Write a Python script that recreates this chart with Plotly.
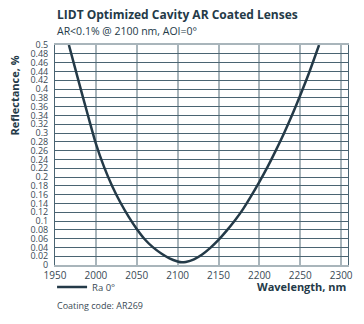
import plotly.graph_objects as go

# Data
wavelength_nm = [1967, 1980, 1990, 2000, 2010, 2020, 2030, 2040, 2050, 2060, 2070, 2080,
                 2090, 2100, 2105, 2110, 2120, 2130, 2140, 2150, 2160, 2170, 2180, 2190,
                 2200, 2210, 2220, 2230, 2240, 2250, 2260, 2273]
reflectance_pct = [0.500, 0.410, 0.342, 0.276, 0.223, 0.179, 0.142, 0.110, 0.082, 0.058, 0.040, 0.026,
                   0.015, 0.008, 0.006, 0.007, 0.013, 0.024, 0.039, 0.057, 0.078, 0.101, 0.127, 0.157,
                   0.189, 0.223, 0.260, 0.299, 0.341, 0.386, 0.433, 0.500]
x_ticks = [1950, 2000, 2050, 2100, 2150, 2200, 2250, 2300]
y_ticks = [round(i * 0.02, 2) for i in range(26)]
y_ticklabels = [f"{v:g}" for v in y_ticks]
series_name = "Ra 0°"
title = "LIDT Optimized Cavity AR Coated Lenses"
subtitle = "AR<0.1% @ 2100 nm, AOI=0°"
footnote = "Coating code: AR269"

DARK = "#243a48"
TEXT = "#3a4a55"
FONT = "Open Sans"

fig = go.Figure()
fig.add_trace(go.Scatter(
    x=wavelength_nm, y=reflectance_pct, mode="lines", name=series_name,
    line=dict(color=DARK, width=2.5, shape="spline", smoothing=0.8),
))

fig.update_layout(
    width=364, height=324,
    margin=dict(l=55, r=11, t=45, b=59),
    paper_bgcolor="white", plot_bgcolor="white",
    font=dict(family=FONT, color=TEXT, size=10),
    showlegend=True,
    legend=dict(x=-0.01, y=-0.1, xanchor="left", yanchor="middle", orientation="h",
                font=dict(size=9.5, color=TEXT), itemwidth=30, bgcolor="rgba(0,0,0,0)"),
    xaxis=dict(
        range=[1950, 2308.4], tickvals=x_ticks, ticktext=[str(v) for v in x_ticks],
        showgrid=True, gridcolor="#a9b5bb", gridwidth=2,
        showline=True, linecolor="#a9b5bb", linewidth=2, mirror=True,
        ticks="", tickfont=dict(size=10, color=TEXT), zeroline=False,
    ),
    yaxis=dict(
        range=[0, 0.5], tickvals=y_ticks, ticktext=y_ticklabels,
        showgrid=True, gridcolor="#4a6472", gridwidth=1,
        showline=True, linecolor="#4a6472", linewidth=1, mirror=True,
        ticks="", tickfont=dict(size=9, color=TEXT), zeroline=False, ticklabelstandoff=4,
    ),
    annotations=[
        dict(text="<b>" + title + "</b>", xref="paper", yref="paper", x=0, y=1,
             xanchor="left", yanchor="middle", yshift=31, showarrow=False,
             font=dict(size=12, color=DARK, family=FONT)),
        dict(text=subtitle, xref="paper", yref="paper", x=0, y=1,
             xanchor="left", yanchor="middle", yshift=14, showarrow=False,
             font=dict(size=10.5, color=DARK, family=FONT)),
        dict(text="<b>Reflectance, %</b>", xref="paper", yref="paper", x=0, y=0.77,
             xanchor="center", yanchor="middle", xshift=-40, textangle=-90, showarrow=False,
             font=dict(size=11, color=DARK, family=FONT)),
        dict(text="<b>Wavelength, nm</b>", xref="paper", yref="paper", x=1, y=0,
             xanchor="right", yanchor="middle", yshift=-21, showarrow=False,
             font=dict(size=11, color=DARK, family=FONT)),
        dict(text=footnote, xref="paper", yref="paper", x=0, y=0,
             xanchor="left", yanchor="middle", yshift=-40, showarrow=False,
             font=dict(size=9, color=TEXT, family=FONT)),
    ],
)

fig.write_html("out.html")
